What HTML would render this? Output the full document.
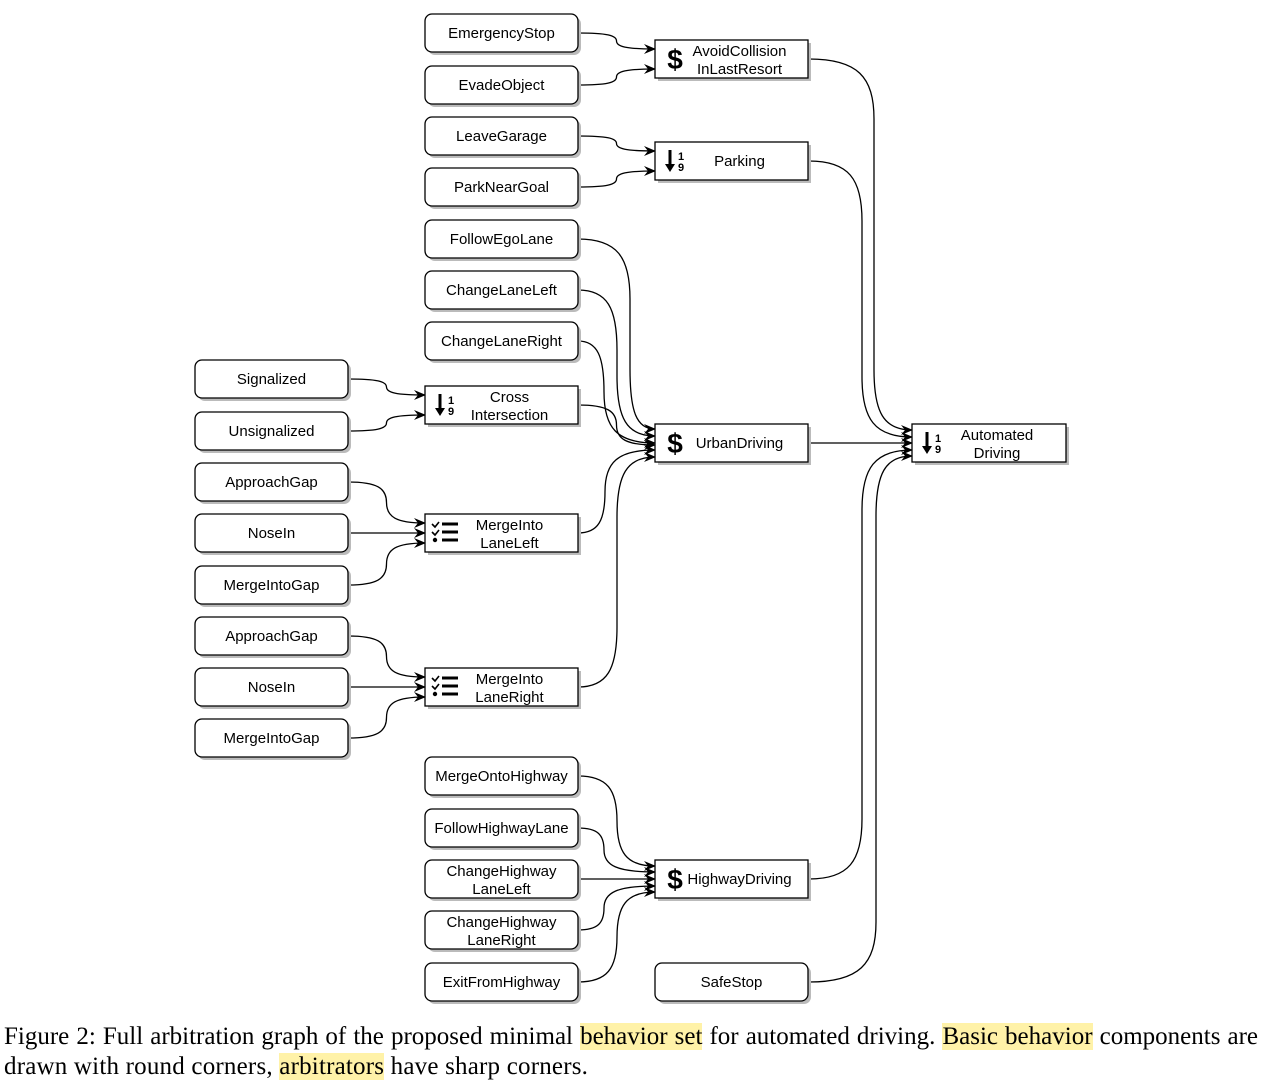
<!DOCTYPE html>
<html><head><meta charset="utf-8">
<style>
body{margin:0;background:#fff;width:1266px;height:1090px;overflow:hidden;position:relative}
svg{position:absolute;left:0;top:0}
svg text{font-family:"Liberation Sans",sans-serif;font-size:15px;fill:#000}
.cap{position:absolute;left:4px;width:1254px;font-family:"Liberation Serif",serif;font-size:25px;line-height:30px;color:#000}
.l1{top:1022px;text-align:justify;text-align-last:justify;white-space:nowrap}
.l2{top:1052px;letter-spacing:0.2px}
.h{background:#fff2a8}
</style></head><body>
<svg id="s" width="1266" height="1015" viewBox="0 0 1266 1015">
<defs>
<marker id="a" markerWidth="12" markerHeight="10" refX="11" refY="5" orient="auto" markerUnits="userSpaceOnUse">
<path d="M0,0 L12,5 L0,10 L4,5 Z" fill="#000"/></marker>
</defs>
<g id="g"></g>
</svg>
<div class="cap l1">Figure 2: Full arbitration graph of the proposed minimal <span class="h">behavior set</span> for automated driving. <span class="h">Basic behavior</span> components are</div>
<div class="cap l2">drawn with round corners, <span class="h">arbitrators</span> have sharp corners.</div>
<script>
var g=document.getElementById('g'),h='';
function box(x,cy,w,lines,round,icon){
 var y=cy-19,H=38;
 h+='<rect x="'+(x+3)+'" y="'+(y+3)+'" width="'+w+'" height="'+H+'" rx="'+(round?7:0)+'" fill="#bbb"/>';
 h+='<rect x="'+x+'" y="'+y+'" width="'+w+'" height="'+H+'" rx="'+(round?7:0)+'" fill="#fff" stroke="#000" stroke-width="1.3"/>';
 var tx=x+w/2+(icon?8:0);
 if(icon=='$'){h+='<text x="'+(x+20)+'" y="'+(cy+10)+'" text-anchor="middle" style="font-size:28px;font-weight:bold">$</text>';}
 if(icon=='s'){h+='<path d="M'+(x+15)+','+(cy-11)+' V'+(cy+6)+'" stroke="#000" stroke-width="3"/><path d="M'+(x+10)+','+(cy+3)+' L'+(x+15)+','+(cy+11)+' L'+(x+20)+','+(cy+3)+' Z" fill="#000"/><text x="'+(x+26)+'" y="'+(cy-1)+'" text-anchor="middle" style="font-size:11px;font-weight:bold">1</text><text x="'+(x+26)+'" y="'+(cy+10)+'" text-anchor="middle" style="font-size:11px;font-weight:bold">9</text>';}
 if(icon=='c'){for(var i=0;i<3;i++){var yy=cy-9+i*8;h+='<rect x="'+(x+17)+'" y="'+(yy-1.5)+'" width="16" height="3" fill="#000"/>';h+=(i<2?'<path d="M'+(x+7)+','+yy+' l3,3 l4,-5" stroke="#000" stroke-width="1.6" fill="none"/>':'<circle cx="'+(x+10)+'" cy="'+yy+'" r="2.2" fill="#000"/>');}}
 if(lines.length==1)h+='<text x="'+tx+'" y="'+(cy+5)+'" text-anchor="middle">'+lines[0]+'</text>';
 else{h+='<text x="'+tx+'" y="'+(cy-3)+'" text-anchor="middle">'+lines[0]+'</text><text x="'+tx+'" y="'+(cy+15)+'" text-anchor="middle">'+lines[1]+'</text>';}
}
function ed(x1,y1,x2,y2,xm){
 if(xm===undefined)xm=(x1+x2)/2;
 var dy=y2-y1,s=dy>0?1:-1,r=Math.min(Math.abs(dy)/2,60);
 if(Math.abs(dy)<1){h+='<path d="M'+x1+','+y1+' L'+x2+','+y2+'" fill="none" stroke="#000" stroke-width="1.3" marker-end="url(#a)"/>';return;}
 var a1=xm-x1,a2=x2-xm;
 h+='<path d="M'+x1+','+y1+' C'+(x1+a1*0.75)+','+y1+' '+xm+','+(y1+s*r*0.3)+' '+xm+','+(y1+s*r)+' L'+xm+','+(y2-s*r)+' C'+xm+','+(y2-s*r*0.3)+' '+(x2-a2*0.75)+','+y2+' '+x2+','+y2+'" fill="none" stroke="#000" stroke-width="1.3" marker-end="url(#a)"/>';
}
var L=195,M=425,A=655,R=912,W=153;
ed(578,33,A,49);ed(578,85,A,69);
ed(578,136,A,151);ed(578,187,A,171);
var ui=[429,436,443,450,457];
ed(578,239,A,ui[0],630);ed(578,290,A,ui[1],617);ed(578,341,A,ui[2],604);ed(578,405,A,ui[2]+2);ed(578,533,A,ui[3],605);ed(578,687,A,ui[4],617);
ed(348,379,M,395);ed(348,431,M,415);
ed(348,482,M,523);ed(348,533,M,533);ed(348,585,M,543);
ed(348,636,M,677);ed(348,687,M,687);ed(348,738,M,697);
ed(578,776,A,866,617);ed(578,828,A,872,604);ed(578,879,A,879);ed(578,930,A,886,604);ed(578,982,A,892,617);
ed(809,59,R,430,874);ed(809,161,R,437,862);ed(809,443,R,443);ed(809,879,R,450,862);ed(809,982,R,456,876);
[['EmergencyStop',33],['EvadeObject',85],['LeaveGarage',136],['ParkNearGoal',187],['FollowEgoLane',239],['ChangeLaneLeft',290],['ChangeLaneRight',341]].forEach(function(m){box(M,m[1],W,[m[0]],1)});
[['Signalized',379],['Unsignalized',431],['ApproachGap',482],['NoseIn',533],['MergeIntoGap',585],['ApproachGap',636],['NoseIn',687],['MergeIntoGap',738]].forEach(function(m){box(L,m[1],W,[m[0]],1)});
box(M,776,W,['MergeOntoHighway'],1);box(M,828,W,['FollowHighwayLane'],1);
box(M,879,W,['ChangeHighway','LaneLeft'],1);box(M,930,W,['ChangeHighway','LaneRight'],1);box(M,982,W,['ExitFromHighway'],1);
box(A,59,W,['AvoidCollision','InLastResort'],0,'$');
box(A,161,W,['Parking'],0,'s');
box(M,405,W,['Cross','Intersection'],0,'s');
box(M,533,W,['MergeInto','LaneLeft'],0,'c');
box(M,687,W,['MergeInto','LaneRight'],0,'c');
box(A,443,W,['UrbanDriving'],0,'$');
box(A,879,W,['HighwayDriving'],0,'$');
box(A,982,W,['SafeStop'],1);
box(R,443,W+1,['Automated','Driving'],0,'s');
g.innerHTML=h;
</script>
</body></html>
